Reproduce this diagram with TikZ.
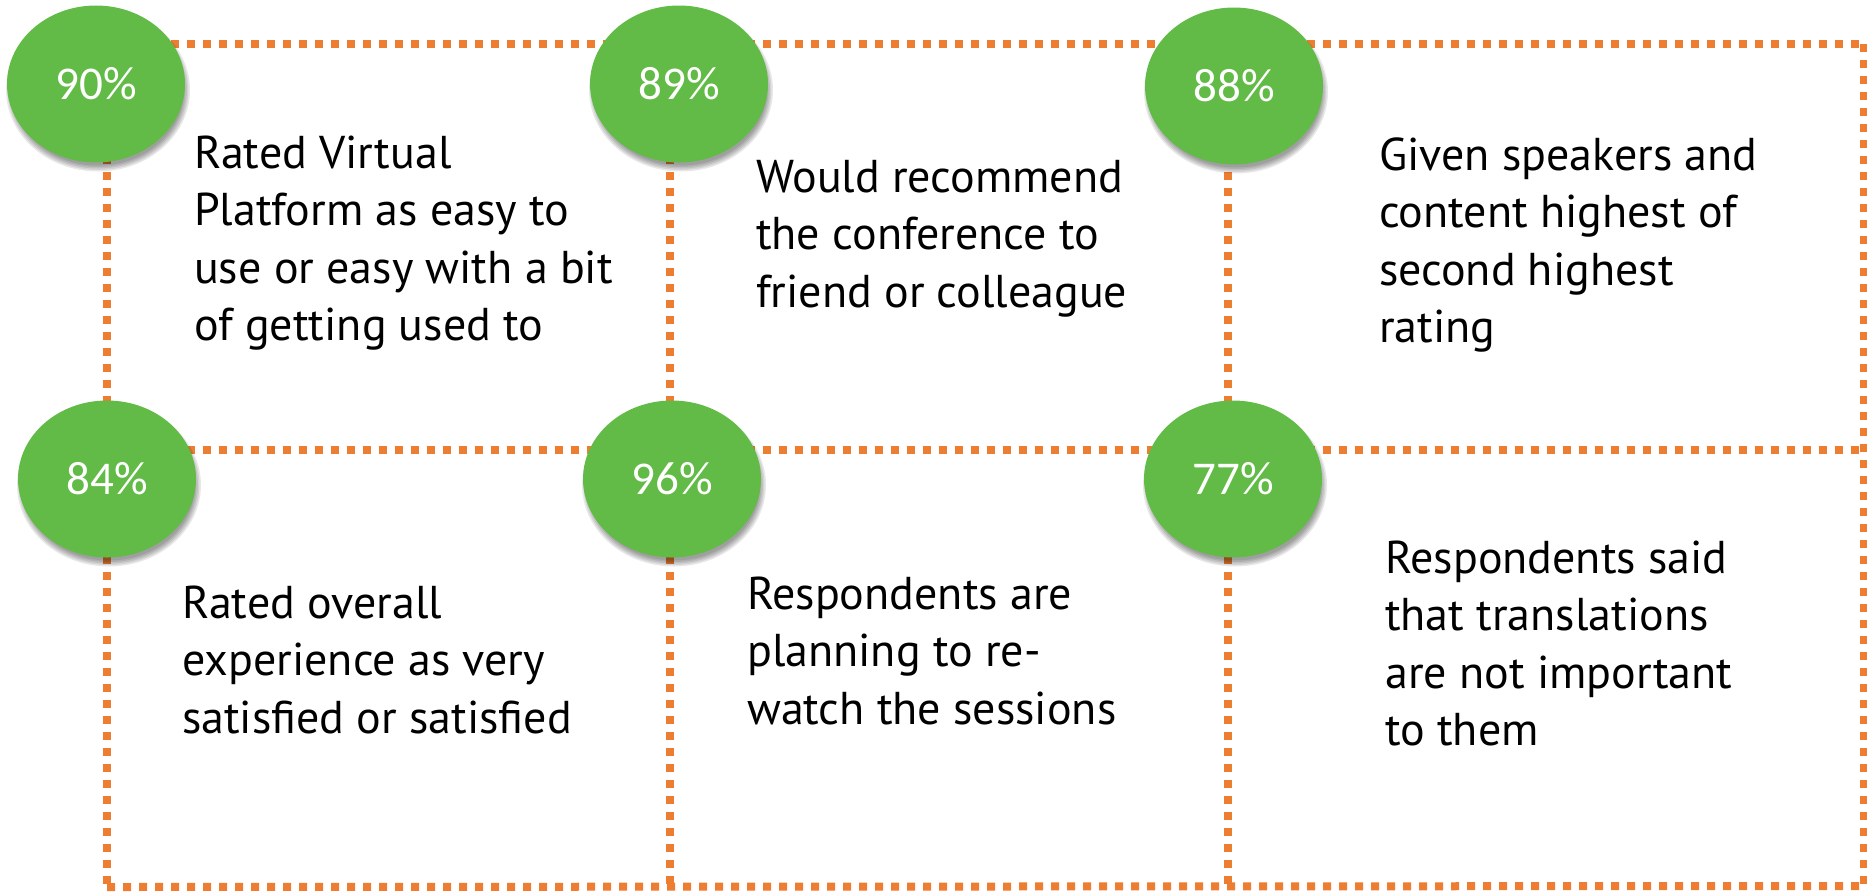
\documentclass[tikz,border=0pt]{standalone}
\usepackage{fontspec}
\setmainfont{PT Sans}
\newfontfamily\numfont{Carlito}
\usetikzlibrary{shapes.geometric}
\definecolor{dotorange}{HTML}{ED7D31}
\definecolor{circgreen}{HTML}{62BB46}
\tikzset{
  dotline/.style={draw=dotorange, line width=8pt, dash pattern=on 8pt off 8pt},
  bubble/.style={ellipse, fill=circgreen, minimum width=178pt, minimum height=157pt,
    inner sep=0pt, text=white, font=\numfont\fontsize{47}{56}\selectfont},
  desc/.style={anchor=north west, align=left, inner sep=0pt, text=black,
    font=\fontsize{46}{57.5}\selectfont},
}
\newcommand{\fl}{\rule{0pt}{40pt}}
\begin{document}
\begin{tikzpicture}[x=1pt,y=-1pt]
\useasboundingbox (0,0) rectangle (1867,895);
% grid corners
\coordinate (a1) at (107,44);  \coordinate (a2) at (670,44);  \coordinate (a3) at (1228,44);  \coordinate (a4) at (1864,44);
\coordinate (b1) at (107,450); \coordinate (b2) at (670,450); \coordinate (b3) at (1228,450); \coordinate (b4) at (1864,450);
\coordinate (d1) at (107,887); \coordinate (d2) at (670,887); \coordinate (d3) at (1228,887); \coordinate (d4) at (1864,886);
\draw[dotline] (a1) -- (a4);
\draw[dotline] (b1) -- (b4);
\draw[dotline] (d1) -- (d4);
\draw[dotline] (a1) -- (d1);
\draw[dotline] (a2) -- (d2);
\draw[dotline] (a3) -- (d3);
\draw[dotline] (a4) -- (d4);
% circle centres
\coordinate (p1) at (96,84);
\coordinate (p2) at (679,84);
\coordinate (p3) at (1234,86);
\coordinate (p4) at (107,479);
\coordinate (p5) at (672,479);
\coordinate (p6) at (1233,479);
% soft shadows
\foreach \p in {p1,p2,p3,p4,p5,p6}{
  \foreach \r in {0,1.5,3,4.5,6}{
    \fill[black, opacity=0.09] ([shift={(2,6)}]\p) ellipse ({89+\r-3} and {78.5+\r-3});
  }
}
\node[bubble] (c1) at (p1) {90\%};
\node[bubble] (c2) at (p2) {89\%};
\node[bubble] (c3) at (p3) {88\%};
\node[bubble] (c4) at (p4) {84\%};
\node[bubble] (c5) at (p5) {96\%};
\node[bubble] (c6) at (p6) {77\%};
% descriptions (top = first baseline - 40)
\node[desc] (t1) at (194,128) {\fl Rated Virtual\\Platform as easy to\\use or easy with a bit\\of getting used to};
\node[desc] (t2) at (756,152) {\fl Would recommend\\the conference to\\friend or colleague};
\node[desc] (t3) at (1379,130) {\fl Given speakers and\\content highest of\\second highest\\rating};
\node[desc] (t4) at (182,578) {\fl Rated overall\\experience as very\\satisfied or satisfied};
\node[desc] (t5) at (747,569) {\fl Respondents are\\planning to re-\\watch the sessions};
\node[desc] (t6) at (1385,533) {\fl Respondents said\\that translations\\are not important\\to them};
\end{tikzpicture}
\end{document}
